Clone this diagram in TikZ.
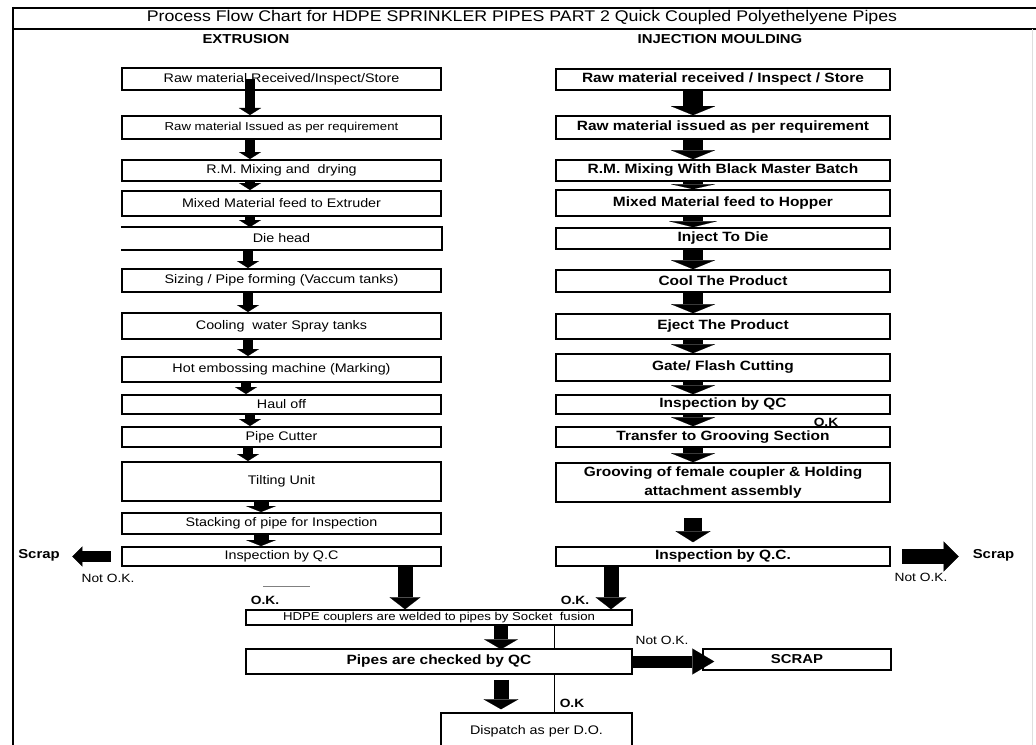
\documentclass[tikz,border=0pt]{standalone}
\usepackage{fontspec}
\setmainfont{Liberation Sans}[FakeStretch=1.15]
\usetikzlibrary{arrows.meta}
\begin{document}
\begin{tikzpicture}[x=1bp,y=-1bp,
  lbox/.style={draw, line width=2bp, minimum width=319bp, inner sep=0pt, fill=white,
    font=\fontsize{12.5}{14}\selectfont},
  lsmall/.style={lbox, font=\fontsize{11.5}{13}\selectfont},
  rbox/.style={draw, line width=1.6bp, minimum width=334bp, inner sep=0pt, fill=white, align=center,
    font=\bfseries\fontsize{13.5}{19}\selectfont},
  bbox/.style={draw, line width=1.5bp, inner sep=0pt, fill=white},
  larr/.style={line width=10bp, -{Triangle[width=22bp,length=7bp,line width=0.1pt]}},
  rarr/.style={line width=20bp, -{Triangle[width=44bp,length=9bp,line width=0.1pt]}},
  barr/.style={line width=15bp, -{Triangle[width=31bp,length=12bp,line width=0.1pt]}},
  lbl/.style={inner sep=0pt, font=\fontsize{12}{14}\selectfont},
  blbl/.style={inner sep=0pt, font=\bfseries\fontsize{13}{15}\selectfont},
  framel/.style={line width=2bp}
]
\useasboundingbox (0,0) rectangle (1036,745);

% frame
\draw[framel] (13,8) -- (1036,8);
\draw[line width=2.5bp] (13,29) -- (1036,29);
\draw[framel] (13,7) -- (13,745);
\draw[gray!25, line width=0.8bp] (1032,29) -- (1032,745);

% titles
\node[inner sep=0pt, font=\fontsize{15.5}{17}\selectfont] (title) at (522,18)
  {Process Flow Chart for HDPE SPRINKLER PIPES PART 2 Quick Coupled Polyethelyene Pipes};
\node[blbl] (hext) at (246,39) {EXTRUSION};
\node[blbl] (hinj) at (720,39) {INJECTION MOULDING};

% left column
\node[lbox, minimum height=22bp] (L1) at (281.5,79) {Raw material Received/Inspect/Store};
\node[lsmall, minimum height=23bp] (L2) at (281.5,127.5) {Raw material Issued as per requirement};
\node[lbox, minimum height=21bp] (L3) at (281.5,170.5) {R.M. Mixing and \ drying};
\node[lbox, minimum height=25bp] (L4) at (281.5,203.5) {Mixed Material feed to Extruder};
\node[lbox, draw=none, minimum height=21bp] (L5) at (281.5,238.5) {Die head};
\draw[line width=2bp] (L5.north west) -- (L5.north east) -- (L5.south east) -- (L5.south west);
\node[lbox, minimum height=23bp] (L6) at (281.5,280.5) {Sizing / Pipe forming (Vaccum tanks)};
\node[lbox, minimum height=26bp] (L7) at (281.5,326) {Cooling \ water Spray tanks};
\node[lbox, minimum height=25bp] (L8) at (281.5,369.5) {Hot embossing machine (Marking)};
\node[lbox, minimum height=19bp] (L9) at (281.5,404.5) {Haul off};
\node[lbox, minimum height=20bp] (L10) at (281.5,437) {Pipe Cutter};
\node[lbox, minimum height=39bp] (L11) at (281.5,481.5) {Tilting Unit};
\node[lbox, minimum height=21bp] (L12) at (281.5,523.5) {Stacking of pipe for Inspection};
\node[lbox, minimum height=19bp] (L13) at (281.5,556.5) {Inspection by Q.C};

% right column
\node[rbox, minimum height=21bp] (R1) at (723,79.5) {Raw material received / Inspect / Store};
\node[rbox, minimum height=23bp] (R2) at (723,127.5) {Raw material issued as per requirement};
\node[rbox, minimum height=21bp] (R3) at (723,170.5) {R.M. Mixing With Black Master Batch};
\node[rbox, minimum height=26bp] (R4) at (723,203) {Mixed Material feed to Hopper};
\node[rbox, minimum height=21bp] (R5) at (723,238.5) {Inject To Die};
\node[rbox, minimum height=22bp] (R6) at (723,281) {Cool The Product};
\node[rbox, minimum height=25bp] (R7) at (723,326.5) {Eject The Product};
\node[rbox, minimum height=27bp] (R8) at (723,367.5) {Gate/ Flash Cutting};
\node[rbox, minimum height=19bp] (R9) at (723,404.5) {Inspection by QC};
\node[rbox, minimum height=20bp] (R10) at (723,437) {Transfer to Grooving Section};
\node[rbox, minimum height=39bp] (R11) at (723,482.5) {Grooving of female coupler \& Holding\\attachment assembly};
\node[rbox, minimum height=19bp] (R12) at (723,556.5) {Inspection by Q.C.};

% bottom
\node[bbox, minimum width=386bp, minimum height=15bp, font=\fontsize{11.5}{13}\selectfont] (H) at (439,617.5)
  {HDPE couplers are welded to pipes by Socket \ fusion};
\node[bbox, minimum width=386bp, minimum height=25bp, font=\bfseries\fontsize{13.5}{15}\selectfont] (P) at (439,661.5)
  {Pipes are checked by QC};
\node[bbox, minimum width=188bp, minimum height=21bp, font=\bfseries\fontsize{13}{15}\selectfont] (S) at (797,659.5)
  {SCRAP};
\node[bbox, minimum width=191bp, minimum height=36bp, font=\fontsize{12.5}{14}\selectfont] (D) at (536.5,731)
  {Dispatch as per D.O.};

% labels
\node[blbl] (scrapL) at (39,555) {Scrap};
\node[lbl] (nokL) at (108,578) {Not O.K.};
\node[blbl] (scrapR) at (993.5,555) {Scrap};
\node[lbl] (nokR) at (921,577) {Not O.K.};
\node[lbl, font=\bfseries\fontsize{12}{14}\selectfont] (okA) at (265,600) {O.K.};
\node[lbl, font=\bfseries\fontsize{12}{14}\selectfont] (okB) at (575,600) {O.K.};
\node[lbl, font=\bfseries\fontsize{12}{14}\selectfont] (okC) at (826,422) {O.K};
\node[lbl] (nokP) at (662,640) {Not O.K.};
\node[lbl, font=\bfseries\fontsize{12}{14}\selectfont] (okD) at (572,703) {O.K};
\draw[gray, line width=0.8bp] (263,586) -- (310,586);

% coordinates for arrow columns
\coordinate (xa) at (250,0);
\coordinate (xb) at (248,0);
\coordinate (xc) at (246,0);
\coordinate (xd) at (261,0);
\coordinate (xr) at (693,0);
\coordinate (xq) at (405,0);
\coordinate (xs) at (611,0);
\coordinate (xp) at (501,0);
\coordinate (xv) at (554,0);

% left arrows
\draw[larr] (L1.center -| xa) -- (L2.north -| xa);
\draw[larr] (L2.south -| xa) -- (L3.north -| xa);
\draw[larr] (L3.south -| xa) -- (L4.north -| xa);
\draw[larr] (L4.south -| xa) -- (L5.north -| xa);
\draw[larr] (L5.south -| xb) -- (L6.north -| xb);
\draw[larr] (L6.south -| xb) -- (L7.north -| xb);
\draw[larr] (L7.south -| xb) -- (L8.north -| xb);
\draw[larr] (L8.south -| xc) -- (L9.north -| xc);
\draw[larr] (L9.south -| xa) -- (L10.north -| xa);
\draw[larr] (L10.south -| xb) -- (L11.north -| xb);
\draw[line width=15bp, -{Triangle[width=30bp,length=6bp,line width=0.1pt]}] (L11.south -| xd) -- (L12.north -| xd);
\draw[line width=15bp, -{Triangle[width=30bp,length=6bp,line width=0.1pt]}] (L12.south -| xd) -- (L13.north -| xd);

% right arrows
\draw[rarr] (R1.south -| xr) -- (R2.north -| xr);
\draw[rarr] (R2.south -| xr) -- (R3.north -| xr);
\draw[rarr, -{Triangle[width=44bp,length=5bp,line width=0.1pt]}] (R3.south -| xr) -- (R4.north -| xr);
\draw[rarr, -{Triangle[width=48bp,length=6bp,line width=0.1pt]}] (R4.south -| xr) -- (R5.north -| xr);
\draw[rarr] (R5.south -| xr) -- (R6.north -| xr);
\draw[rarr] (R6.south -| xr) -- (R7.north -| xr);
\draw[rarr] (R7.south -| xr) -- (R8.north -| xr);
\draw[rarr] (R8.south -| xr) -- (R9.north -| xr);
\draw[rarr] (R9.south -| xr) -- (R10.north -| xr);
\draw[rarr] (R10.south -| xr) -- (R11.north -| xr);
\draw[line width=18bp, -{Triangle[width=35bp,length=11bp,line width=0.1pt]}, shorten <=15bp, shorten >=4bp] (R11.south -| xr) -- (R12.north -| xr);

% scrap arrows
\draw[line width=11bp, -{Triangle[width=20bp,length=10bp,line width=0.1pt]}, shorten <=10bp, shorten >=12.5bp] (L13.west) -- (scrapL.east |- L13.west);
\draw[line width=15bp, -{Triangle[width=30bp,length=15bp,line width=0.1pt]}, shorten <=11bp, shorten >=14bp] (R12.east) -- (scrapR.west |- R12.east);
\draw[line width=12bp, -{Triangle[width=26bp,length=22bp,line width=0.1pt]}, shorten >=-12bp] (P.east) -- (S.west |- P.east);

% bottom arrows
\draw[barr] (L13.south -| xq) -- (H.north -| xq);
\draw[barr] (R12.south -| xs) -- (H.north -| xs);
\draw[line width=14bp, -{Triangle[width=34bp,length=10bp,line width=0.1pt]}, shorten >=-1bp] (H.south -| xp) -- (P.north -| xp);
\draw[line width=15bp, -{Triangle[width=35bp,length=10bp,line width=0.1pt]}, shorten <=5bp, shorten >=3bp] (P.south -| xp) -- (D.north -| xp);

% thin OK line
\draw[line width=0.8bp] (H.south -| xv) -- (P.north -| xv);
\draw[line width=0.8bp] (P.south -| xv) -- (D.north -| xv);
\end{tikzpicture}
\end{document}
